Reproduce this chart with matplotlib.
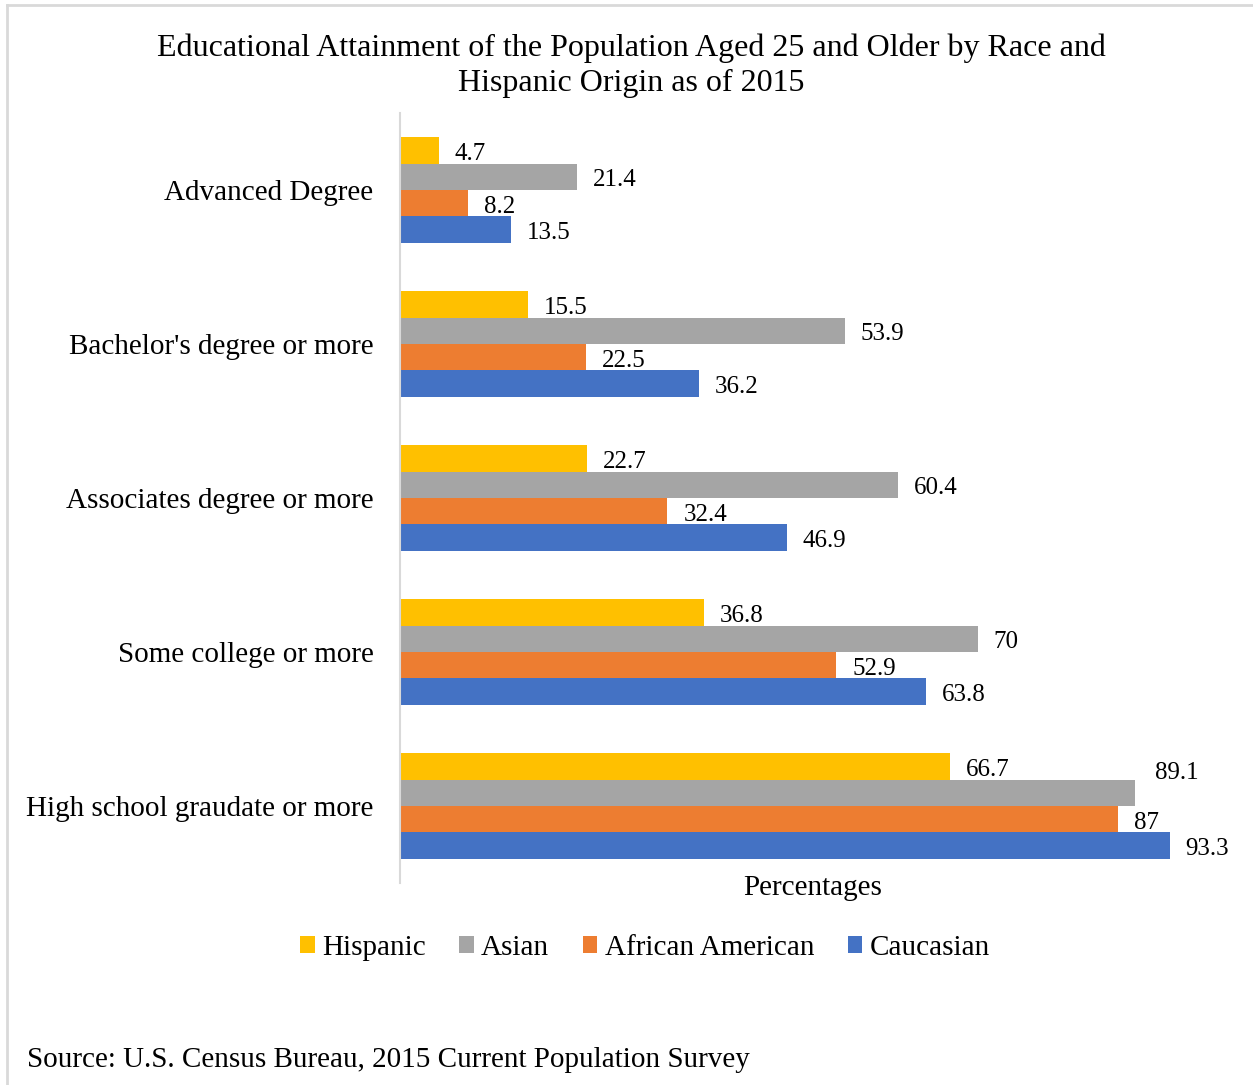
import matplotlib.pyplot as plt
from matplotlib.lines import Line2D
from matplotlib.patches import Patch
import numpy as np

plt.rcParams['font.family'] = ['Liberation Serif', 'DejaVu Serif']

# Dane: odsetek osób z danym wykształceniem (25+), 2015
categories = ['Advanced Degree', "Bachelor's degree or more", 'Associates degree or more',
              'Some college or more', 'High school graudate or more']
hispanic = [4.7, 15.5, 22.7, 36.8, 66.7]
asian = [21.4, 53.9, 60.4, 70, 89.1]
african_american = [8.2, 22.5, 32.4, 52.9, 87]
caucasian = [13.5, 36.2, 46.9, 63.8, 93.3]

series_names = ['Hispanic', 'Asian', 'African American', 'Caucasian']
series_values = [hispanic, asian, african_american, caucasian]
colors = ['#FFC000', '#A5A5A5', '#ED7D31', '#4472C4']

fig = plt.figure(figsize=(12.53, 10.85), dpi=100)
ax = fig.add_axes([400 / 1253, 202 / 1085, 825 / 1253, 770 / 1085])

y = np.arange(len(categories))
h = 0.172
for i, (name, vals, col) in enumerate(zip(series_names, series_values, colors)):
    pos = y + (i - 1.5) * h
    ax.barh(pos, vals, height=h, color=col, label=name, edgecolor='none')
    for j, (p, v) in enumerate(zip(pos, vals)):
        dx, dy = 11.5, -2.5
        # etykieta 89.1 przesunięta w górę, żeby nie nachodziła na sąsiednie
        if name == 'Asian' and j == 4:
            dx, dy = 14.5, 14
        ax.annotate(f'{v:g}', (v, p), xytext=(dx, dy), textcoords='offset points',
                    ha='left', va='center', fontsize=18)

ax.set_xlim(0, 100)
ax.set_ylim(4.5, -0.5)
ax.set_yticks(y)
ax.set_yticklabels(categories, fontsize=21)
ax.tick_params(axis='y', length=0, pad=19)
ax.set_xticks([])
for s in ['top', 'right', 'bottom']:
    ax.spines[s].set_visible(False)
ax.spines['left'].set_color('#D9D9D9')
ax.spines['left'].set_linewidth(1.5)

fig.text(812.5 / 1253, 1 - 888 / 1085, 'Percentages', ha='center', va='center', fontsize=21)

fig.text(631 / 1253, 1 - 66 / 1085,
         'Educational Attainment of the Population Aged 25 and Older by Race and\nHispanic Origin as of 2015',
         ha='center', va='center', fontsize=23, linespacing=1.27)

handles = [Patch(facecolor=c, edgecolor='none') for c in colors]
fig.legend(handles, series_names, loc='center', bbox_to_anchor=(645 / 1253, 1 - 948 / 1085),
           ncol=4, frameon=False, fontsize=21, handlelength=0.5, handleheight=0.5,
           handletextpad=0.25, columnspacing=1.15)

fig.text(27 / 1253, 1 - 1060 / 1085, 'Source: U.S. Census Bureau, 2015 Current Population Survey',
         ha='left', va='center', fontsize=21)

# ramka wykresu (widoczna tylko góra i lewa krawędź)
fig.add_artist(Line2D([7 / 1253, 1], [1 - 5 / 1085, 1 - 5 / 1085], color='#D9D9D9', lw=2.0))
fig.add_artist(Line2D([7 / 1253, 7 / 1253], [0, 1 - 5 / 1085], color='#D9D9D9', lw=2.0))

fig.savefig('out.png', dpi=100)
